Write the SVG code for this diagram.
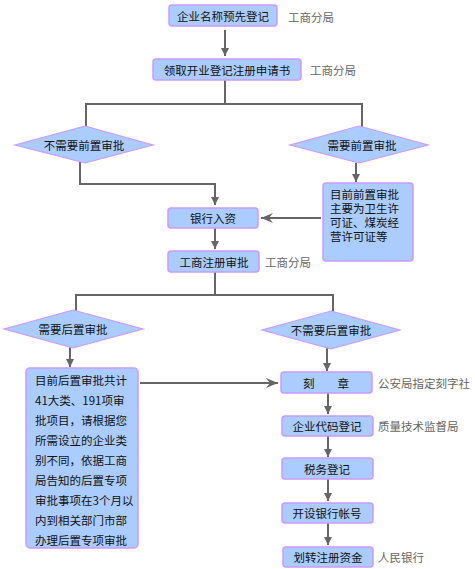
<svg xmlns="http://www.w3.org/2000/svg" width="475" height="569" viewBox="0 0 475 569">
<defs>
<style>
.box{fill:#aaccff;stroke:#cc99ff;stroke-width:1.5}
.dia{fill:#aaccff;stroke:#cc99ff;stroke-width:1.2}
.t{font-family:"Noto Sans CJK SC","Noto Sans",sans-serif;font-size:11.5px;fill:#111;text-anchor:middle;dominant-baseline:central}
.tl{font-family:"Noto Sans CJK SC","Noto Sans",sans-serif;font-size:11.5px;fill:#111;dominant-baseline:central}
.tc{font-family:"Liberation Sans","Noto Sans CJK SC",sans-serif;font-size:11.5px;fill:#111}
.lab{font-family:"Noto Sans CJK SC","Noto Sans",sans-serif;font-size:11.5px;fill:#666;dominant-baseline:central}
.ln{fill:none;stroke:#666;stroke-width:2}
</style>
<marker id="ah" viewBox="0 0 10 10" refX="10" refY="5" markerWidth="4" markerHeight="4" orient="auto" markerUnits="strokeWidth">
<path d="M0,0 L10,5 L0,10 Z" fill="#666"/>
</marker>
<marker id="st" viewBox="0 0 12 10" refX="12" refY="5" markerWidth="6" markerHeight="5" orient="auto" markerUnits="strokeWidth">
<path d="M0,0 L12,5 L0,10 L4,5 Z" fill="#666"/>
</marker>
</defs>
<g id="connectors">
<line class="ln" x1="225" y1="30" x2="225" y2="56" marker-end="url(#ah)"/>
<polyline class="ln" points="225,80 225,104"/>
<polyline class="ln" points="86,127 86,104 362,104 362,127"/>
<polyline class="ln" points="80,162 80,184 215,184 215,205" marker-end="url(#ah)"/>
<line class="ln" x1="356" y1="163" x2="356" y2="182" marker-end="url(#ah)"/>
<line class="ln" x1="321" y1="218" x2="261" y2="218" marker-end="url(#st)"/>
<line class="ln" x1="215" y1="228" x2="215" y2="249" marker-end="url(#ah)"/>
<polyline class="ln" points="215,272 215,295"/>
<polyline class="ln" points="76,311 76,295 333,295 333,312"/>
<line class="ln" x1="70" y1="347" x2="70" y2="367" marker-end="url(#ah)"/>
<line class="ln" x1="327" y1="348" x2="327" y2="371" marker-end="url(#ah)"/>
<line class="ln" x1="140" y1="383" x2="278" y2="383" marker-end="url(#st)"/>
<line class="ln" x1="328" y1="393" x2="328" y2="414" marker-end="url(#ah)"/>
<line class="ln" x1="328" y1="436" x2="328" y2="457" marker-end="url(#ah)"/>
<line class="ln" x1="328" y1="479" x2="328" y2="501" marker-end="url(#ah)"/>
<line class="ln" x1="328" y1="523" x2="328" y2="545" marker-end="url(#ah)"/>
</g>
<g id="n1">
<rect class="box" x="169" y="5" width="108" height="21" rx="3"/>
<text class="t" x="223" y="16">企业名称预先登记</text>
<text class="lab" x="288" y="17">工商分局</text>
</g>
<g id="n2">
<rect class="box" x="153" y="59" width="148" height="21" rx="3"/>
<text class="t" x="227" y="70">领取开业登记注册申请书</text>
<text class="lab" x="310" y="70">工商分局</text>
</g>
<g id="d1">
<polygon class="dia" points="85,126 153,145 85,163 15,145"/>
<text class="t" x="84" y="145">不需要前置审批</text>
</g>
<g id="d2">
<polygon class="dia" points="359,126 428,145 359,163 290,145"/>
<text class="t" x="362" y="145">需要前置审批</text>
</g>
<g id="n3">
<rect class="box" x="323" y="183" width="90" height="78" rx="3"/>
<text class="tc"><tspan x="330" y="199">目前前置审批</tspan><tspan x="330" y="213">主要为卫生许</tspan><tspan x="330" y="227">可证、煤炭经</tspan><tspan x="330" y="241">营许可证等</tspan></text>
</g>
<g id="n4">
<rect class="box" x="168" y="208" width="90" height="20" rx="3"/>
<text class="t" x="213" y="218">银行入资</text>
</g>
<g id="n5">
<rect class="box" x="168" y="251" width="91" height="21" rx="3"/>
<text class="t" x="214" y="262">工商注册审批</text>
<text class="lab" x="265" y="262">工商分局</text>
</g>
<g id="d3">
<polygon class="dia" points="73,310 143,329 73,348 4,329"/>
<text class="t" x="73" y="329">需要后置审批</text>
</g>
<g id="d4">
<polygon class="dia" points="331,311 400,330 331,349 262,330"/>
<text class="t" x="331" y="330">不需要后置审批</text>
</g>
<g id="n6">
<rect class="box" x="26" y="368" width="112" height="180" rx="4"/>
<text class="tl"><tspan x="35" y="380">目前后置审批共计</tspan><tspan x="35" y="400">41大类、191项审</tspan><tspan x="35" y="420">批项目，请根据您</tspan><tspan x="35" y="440">所需设立的企业类</tspan><tspan x="35" y="460">别不同，依据工商</tspan><tspan x="35" y="480">局告知的后置专项</tspan><tspan x="35" y="500">审批事项在3个月以</tspan><tspan x="35" y="520">内到相关部门市部</tspan><tspan x="35" y="540">办理后置专项审批</tspan></text>
</g>
<g id="n7">
<rect class="box" x="281" y="372" width="91" height="21" rx="3"/>
<text class="t" x="326" y="383" xml:space="preserve">刻　　章</text>
<text class="lab" x="378" y="383">公安局指定刻字社</text>
</g>
<g id="n8">
<rect class="box" x="282" y="416" width="91" height="20" rx="3"/>
<text class="t" x="327" y="426">企业代码登记</text>
<text class="lab" x="378" y="426">质量技术监督局</text>
</g>
<g id="n9">
<rect class="box" x="282" y="458" width="91" height="21" rx="3"/>
<text class="t" x="327" y="469">税务登记</text>
</g>
<g id="n10">
<rect class="box" x="282" y="503" width="91" height="20" rx="3"/>
<text class="t" x="327" y="513">开设银行帐号</text>
</g>
<g id="n11">
<rect class="box" x="283" y="547" width="90" height="20" rx="3"/>
<text class="t" x="328" y="557">划转注册资金</text>
<text class="lab" x="378" y="557">人民银行</text>
</g>
</svg>
